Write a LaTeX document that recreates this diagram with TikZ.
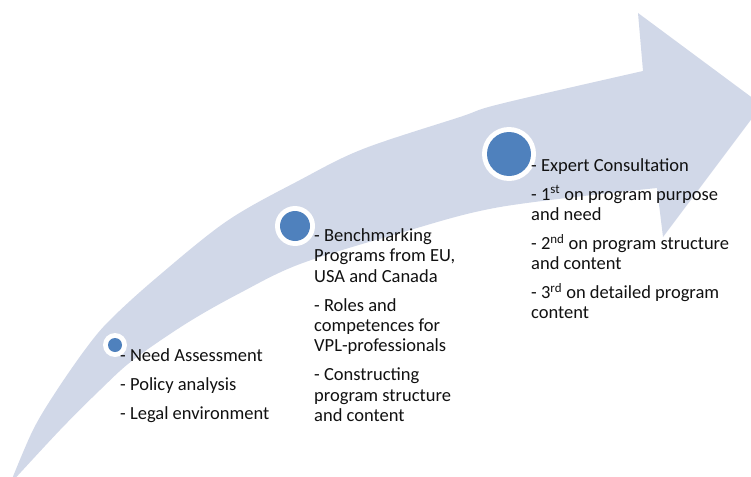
\documentclass[tikz,border=0pt]{standalone}
\usepackage{fontspec}
\setmainfont{Carlito}
\definecolor{bandcol}{HTML}{D1D8E8}
\definecolor{dotcol}{HTML}{4F81BD}
\definecolor{txtcol}{HTML}{111111}
\begin{document}
\begin{tikzpicture}[x=1pt,y=-1pt,
  ring/.style={circle,fill=white,inner sep=0pt},
  dot/.style={circle,fill=dotcol,inner sep=0pt},
  col/.style={anchor=base west,inner sep=0pt,align=left,text=txtcol,
    font=\fontsize{18.5}{20.3}\selectfont}]
\useasboundingbox (0,0) rectangle (751,476);
\clip (0,0) rectangle (751,476);
\fill[white] (0,0) rectangle (751,476);
% curved arrow
\fill[bandcol] plot[smooth,tension=0.55] coordinates {(10,484) (33,430) (57,390) (87,347) (110,320) (155,279) (227,221) (300,180) (363,149) (460,117) (500,104) (643,71)}
  -- (638,13) -- (762,105) -- (663,237) -- (657,188)
  -- plot[smooth,tension=0.55] coordinates {(657,188) (500,207) (400,233) (300,264) (240,293) (187,323) (133,360) (100,390) (60,430) (10,484)}
  -- cycle;
% markers
\node[ring,minimum size=24pt] (r1) at (115,345) {};
\node[dot,minimum size=14pt] (d1) at (r1) {};
\node[ring,minimum size=40pt] (r2) at (295,226) {};
\node[dot,minimum size=30pt] (d2) at (r2) {};
\node[ring,minimum size=54pt] (r3) at (509,154) {};
\node[dot,minimum size=44pt] (d3) at (r3) {};
% texts (anchored at the baseline of their last line)
\node[col] (t1) at (120,419.5) {- Need Assessment\\[8.7pt]- Policy analysis\\[8.7pt]- Legal environment};
\node[col] (t2) at (314,421.3) {- Benchmarking\\Programs from EU,\\USA and Canada\\[8.7pt]- Roles and\\competences for\\VPL-professionals\\[8.7pt]- Constructing\\program structure\\and content};
\node[col] (t3) at (531,318.9) {- Expert Consultation\\[8.7pt]- 1\textsuperscript{st} on program purpose\\and need\\[8.7pt]- 2\textsuperscript{nd} on program structure\\and content\\[8.7pt]- 3\textsuperscript{rd} on detailed program\\content};
\end{tikzpicture}
\end{document}
